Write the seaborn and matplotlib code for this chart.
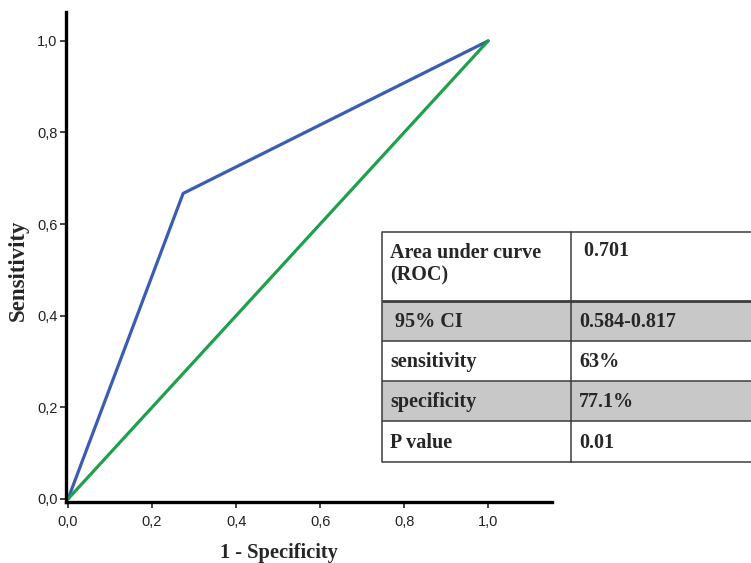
import matplotlib
matplotlib.use("Agg")
import matplotlib.pyplot as plt
from matplotlib.patches import Rectangle
import seaborn as sns
import pandas as pd

# ROC curve points (1 - specificity, sensitivity)
roc_fpr = [0.0, 0.274, 1.0]
roc_tpr = [0.0, 0.667, 1.0]
# chance diagonal
ref_fpr = [0.0, 1.0]
ref_tpr = [0.0, 1.0]

tick_values = [0.0, 0.2, 0.4, 0.6, 0.8, 1.0]
tick_labels = ["0,0", "0,2", "0,4", "0,6", "0,8", "1,0"]

# summary table
table_labels = ["Area under curve\n(ROC)", " 95% CI", "sensitivity", "specificity", "P value"]
table_values = [" 0.701", "0.584-0.817", "63%", "77.1%", "0.01"]
row_shaded = [False, True, False, True, False]

sns.set_theme(style="white")
plt.rcParams["font.family"] = ["Liberation Sans", "DejaVu Sans"]

W, H = 751, 563
fig = plt.figure(figsize=(W / 100, H / 100), dpi=100)

ax = fig.add_axes([66 / W, (H - 502) / H, 486 / W, 490 / H])
roc = pd.DataFrame({"fpr": roc_fpr, "tpr": roc_tpr})
ref = pd.DataFrame({"fpr": ref_fpr, "tpr": ref_tpr})
sns.lineplot(data=roc, x="fpr", y="tpr", sort=False, estimator=None,
             color="#3a5db2", linewidth=2.3, ax=ax)
sns.lineplot(data=ref, x="fpr", y="tpr", sort=False, estimator=None,
             color="#1ea04c", linewidth=2.3, ax=ax)

ax.set_xlim(-0.0048, 1.152)
ax.set_ylim(-0.0066, 1.063)
ax.set_xticks(tick_values)
ax.set_xticklabels(tick_labels)
ax.set_yticks(tick_values)
ax.set_yticklabels(tick_labels)
ax.tick_params(axis="both", which="major", direction="out", length=4, width=1.2,
               color="#222222", labelsize=10.5, labelcolor="#222222", pad=2,
               bottom=True, left=True)
ax.tick_params(axis="x", pad=5)
for side in ("top", "right"):
    ax.spines[side].set_visible(False)
for side in ("left", "bottom"):
    ax.spines[side].set_color("black")
    ax.spines[side].set_linewidth(2.4)

serif = ["Liberation Serif", "DejaVu Serif"]
ax.set_xlabel("")
ax.set_ylabel("")
fig.text(279 / W, 1 - 553 / H, "1 - Specificity", family=serif, fontweight="bold",
         fontsize=14.7, ha="center", va="center")
fig.text(18 / W, 1 - 270 / H, "Sensitivity", family=serif, fontweight="bold",
         fontsize=16.5, ha="center", va="center", rotation=90)

# summary table overlay, laid out in pixel units
tab = fig.add_axes([0, 0, 1, 1])
tab.set_xlim(0, W)
tab.set_ylim(H, 0)
tab.axis("off")
tab.patch.set_alpha(0)

left, mid, right = 382, 571, W + 5
row_edges = [232, 301, 341, 381, 421, 462]
line_col = "#3c3c3c"
fs = 14.5
for i in range(len(table_labels)):
    y0, y1 = row_edges[i], row_edges[i + 1]
    face = "#c8c8c8" if row_shaded[i] else "white"
    tab.add_patch(Rectangle((left, y0), right - left, y1 - y0, facecolor=face,
                            edgecolor="none", zorder=1))
    if i == 0:
        tab.text(left + 8, y0 + 32, table_labels[i], family=serif, fontweight="bold",
                 fontsize=fs, ha="left", va="center", linespacing=1.2, zorder=3)
        tab.text(mid + 8, y0 + 19, table_values[i], family=serif, fontweight="bold",
                 fontsize=fs, ha="left", va="center", zorder=3)
    else:
        yc = (y0 + y1) / 2 + 1
        tab.text(left + 8, yc, table_labels[i], family=serif, fontweight="bold",
                 fontsize=fs, ha="left", va="center", zorder=3)
        tab.text(mid + 8, yc, table_values[i], family=serif, fontweight="bold",
                 fontsize=fs, ha="left", va="center", zorder=3)

for k, y in enumerate(row_edges):
    lw = 2.0 if k == 1 else 1.1
    tab.plot([left, right], [y, y], color=line_col, linewidth=lw, zorder=2,
             solid_capstyle="butt")
for x in (left, mid):
    tab.plot([x, x], [row_edges[0], row_edges[-1]], color=line_col, linewidth=1.1,
             zorder=2)

fig.savefig("out.png", dpi=100)
